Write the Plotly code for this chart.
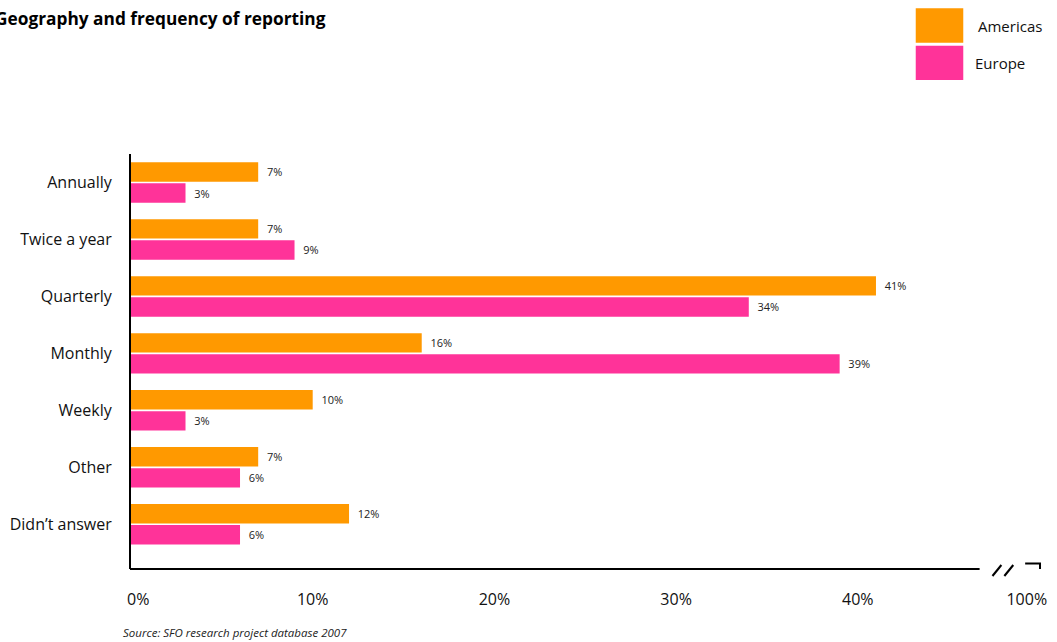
import plotly.graph_objects as go

categories = ["Annually", "Twice a year", "Quarterly", "Monthly", "Weekly", "Other", "Didn\u2019t answer"]
americas = [7, 7, 41, 16, 10, 7, 12]
europe = [3, 9, 34, 39, 3, 6, 6]
tick_vals = [0.4, 10, 20, 30, 40, 49.3]
tick_text = ["0%", "10%", "20%", "30%", "40%", "100%"]

ORANGE = "#FF9900"
PINK = "#FF3399"
FONT = "Open Sans"

W, H = 1057, 642
L, R, T, B = 128, 10, 154, 73
PW, PH = W - L - R, H - T - B
SCALE = 18.35  # pixels per percent


def px(x):
    return (x - L) / PW


def py(y):
    return (H - B - y) / PH


fig = go.Figure()
for name, vals, col in [("Americas", americas, ORANGE), ("Europe", europe, PINK)]:
    fig.add_trace(go.Bar(
        y=categories, x=vals, name=name, orientation="h",
        marker=dict(color=col, line=dict(width=0)),
        text=[f"\u00a0\u00a0{v}%" for v in vals], textposition="outside",
        textfont=dict(size=11, color="#222222", family=FONT),
        cliponaxis=False, hoverinfo="skip",
    ))

shapes = []
line = dict(color="black", width=2)
# broken x axis
shapes.append(dict(type="line", xref="paper", yref="paper", x0=px(127), x1=px(985), y0=0, y1=0, line=line))
shapes.append(dict(type="line", xref="paper", yref="paper", x0=px(998), x1=px(1007), y0=py(576), y1=py(565), line=line))
shapes.append(dict(type="line", xref="paper", yref="paper", x0=px(1010), x1=px(1019), y0=py(576), y1=py(565), line=line))
shapes.append(dict(type="path", xref="paper", yref="paper",
                   path=f"M {px(1031)},{py(563.5)} L {px(1046)},{py(563.5)} L {px(1046)},{py(569)}",
                   line=line))
# legend
shapes.append(dict(type="rect", xref="paper", yref="paper", x0=px(920.5), x1=px(968.5), y0=py(42.7), y1=py(8.3),
                   fillcolor=ORANGE, line=dict(width=0)))
shapes.append(dict(type="rect", xref="paper", yref="paper", x0=px(920.5), x1=px(968.5), y0=py(80), y1=py(45.7),
                   fillcolor=PINK, line=dict(width=0)))

annotations = [
    dict(text="<b>Geography and frequency of reporting</b>", xref="paper", yref="paper",
         x=px(-11), y=py(19), xanchor="left", yanchor="middle", showarrow=False,
         font=dict(size=17.3, color="black", family=FONT)),
    dict(text="Americas", xref="paper", yref="paper", x=px(981), y=py(26), xanchor="left", yanchor="middle",
         showarrow=False, font=dict(size=15, color="#111111", family=FONT)),
    dict(text="Europe", xref="paper", yref="paper", x=px(978), y=py(63), xanchor="left", yanchor="middle",
         showarrow=False, font=dict(size=15, color="#111111", family=FONT)),
    dict(text="<i>Source: SFO research project database 2007</i>", xref="paper", yref="paper",
         x=px(118), y=py(632), xanchor="left", yanchor="middle", showarrow=False,
         font=dict(size=11.5, color="#222222", family=FONT)),
]

fig.update_layout(
    width=W, height=H,
    margin=dict(l=L, r=R, t=T, b=B),
    paper_bgcolor="white", plot_bgcolor="white",
    barmode="group", bargap=0.26, bargroupgap=0.08,
    showlegend=False,
    font=dict(family=FONT, color="#111111"),
    shapes=shapes, annotations=annotations,
    xaxis=dict(range=[0, PW / SCALE], tickvals=tick_vals, ticktext=tick_text, showgrid=False, zeroline=False,
               showline=False, ticks="", ticklabelstandoff=19, tickfont=dict(size=16, family=FONT, color="#111111"),
               fixedrange=True),
    yaxis=dict(categoryorder="array", categoryarray=categories, range=[6.785, -0.5], showgrid=False,
               zeroline=False, showline=True, linecolor="black", linewidth=2, ticks="", ticklabelstandoff=14,
               tickfont=dict(size=16, family=FONT, color="#111111"), fixedrange=True),
)

fig.write_html("out.html", config={"displayModeBar": False},
               post_script="document.body.style.margin='0';document.body.style.overflow='hidden';")
